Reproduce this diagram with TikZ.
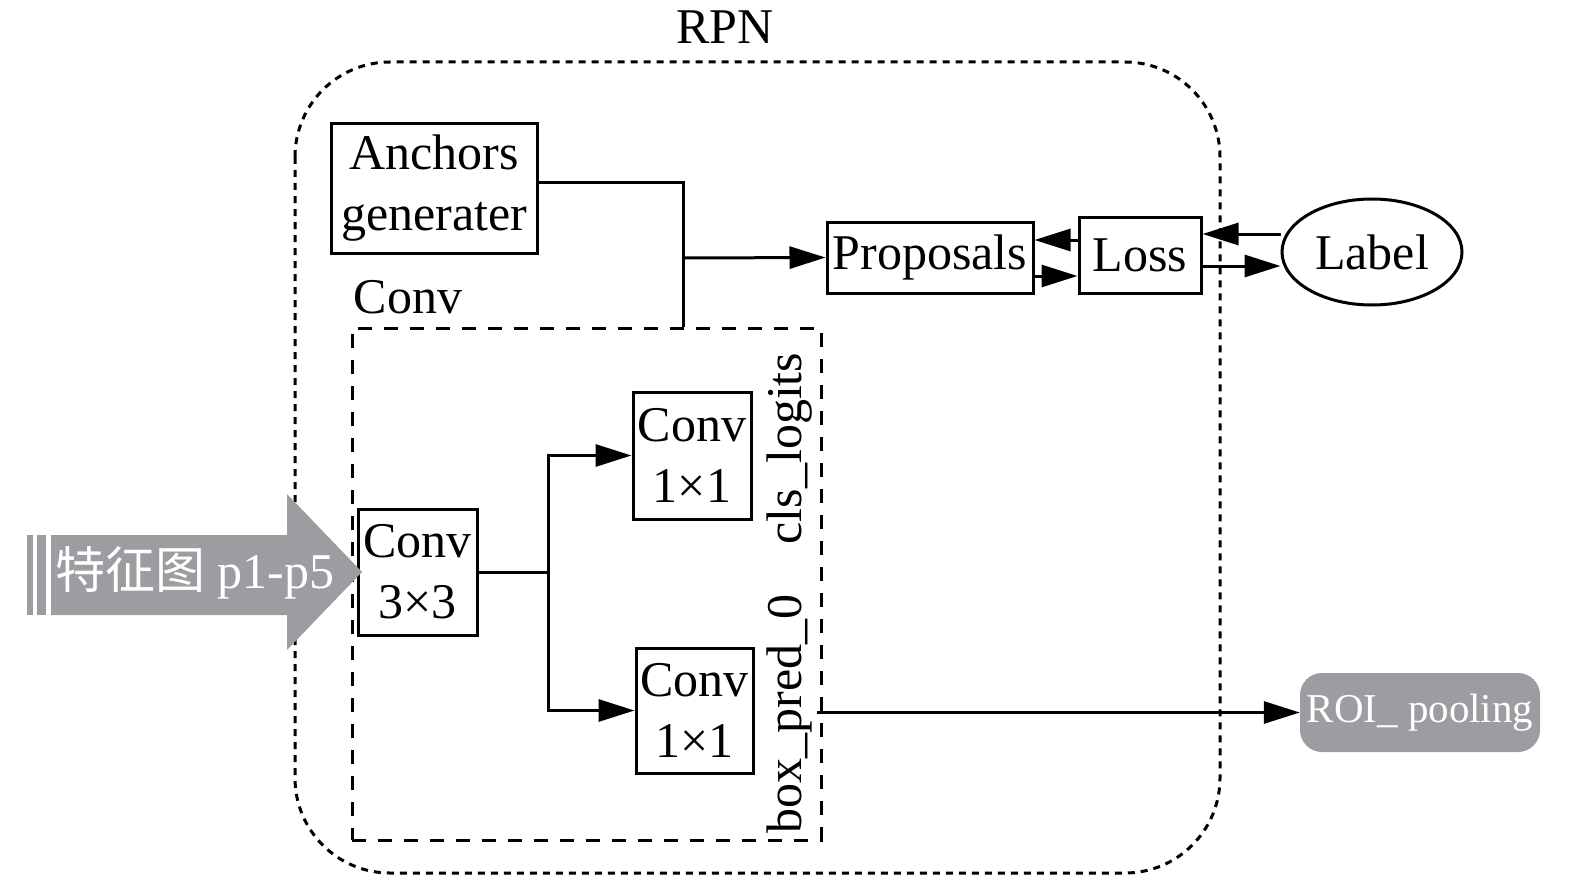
\documentclass[tikz,border=0pt]{standalone}
\usepackage{fontspec}
\setmainfont{Liberation Serif}
\newfontfamily\cjk{Noto Sans CJK SC}
\usetikzlibrary{arrows.meta,shapes.geometric}
\definecolor{fgray}{RGB}{156,157,161}
\newcommand\bigf{\fontsize{50}{61}\selectfont}
\newcommand\midf{\fontsize{41}{48}\selectfont}
\tikzset{
  box/.style={draw, line width=3pt, inner sep=0pt, align=center, font=\bigf},
  conn/.style={line width=3pt},
  arr/.style={line width=3pt, -{Triangle[length=36pt,width=22pt]}},
  outerframe/.style={line width=3pt, dash pattern=on 7pt off 6pt, rounded corners=95pt},
  innerframe/.style={draw, line width=3pt, dash pattern=on 14pt off 12pt, inner sep=0pt},
  plain/.style={inner sep=0pt, font=\bigf}
}
\begin{document}
\begin{tikzpicture}[x=1pt,y=-1pt]
\useasboundingbox (0,0) rectangle (1575,880);
% outer RPN frame
\draw[outerframe] (295,62) rectangle (1220,873);
\node[plain] (rpn) at (725,27) {RPN};
% inner Conv frame
\node[innerframe, minimum width=469pt, minimum height=512pt] (convbox) at (586.5,584) {};
\node[plain] (convlbl) at (408,297) {Conv};
% boxes
\node[box, minimum width=206pt, minimum height=129pt] (anchors) at (434,188.5) {Anchors\\generater};
\node[box, minimum width=206pt, minimum height=71pt] (proposals) at (930,257.5) {Proposals};
\node[box, minimum width=122pt, minimum height=76pt] (loss) at (1140,255) {Loss};
\node[draw, ellipse, line width=3pt, inner sep=0pt, font=\bigf, minimum width=180pt, minimum height=106pt] (label) at (1372,252) {Label};
\node[box, minimum width=119pt, minimum height=126pt] (conv33) at (417.5,572) {Conv\\3×3};
\node[box, minimum width=118pt, minimum height=127pt] (conv11a) at (692,455.5) {Conv\\1×1};
\node[box, minimum width=117pt, minimum height=125pt] (conv11b) at (694.5,710.5) {Conv\\1×1};
\node[plain, rotate=90] (vt) at (790,593) {box\_pred\_0\quad cls\_logits};
\node[fill=fgray, rounded corners=22pt, minimum width=240pt, minimum height=79pt, inner sep=0pt, text=white, font=\midf] (roi) at (1420,712.5) {ROI\_ pooling};
% feature arrow
\fill[fgray] (51,535) -- (287,535) -- (287,494) -- (362,572) -- (287,650) -- (287,615) -- (51,615) -- cycle;
\fill[fgray] (27,535) rectangle (33,615);
\fill[fgray] (37,535) rectangle (46,615);
\node[inner sep=0pt, text=white, font=\bigf] (feat) at (195,573) {{\cjk 特征图} p1-p5};
% connectors
\coordinate (jA) at (683,258);
\draw[conn] ([yshift=5.5pt]anchors.east) -| (jA) -- (jA |- convbox.north);
\draw[arr] (jA) -- (proposals.west);
\coordinate (lp) at ([yshift=15pt]loss.west);
\draw[arr] (lp) -- (lp -| proposals.east);
\coordinate (pl) at ([yshift=-18.5pt]proposals.east);
\draw[arr] (pl) -- (pl -| loss.west);
\coordinate (ll) at ([yshift=18pt]label.west);
\draw[arr] (ll) -- (ll -| loss.east);
\coordinate (lo) at ([yshift=-11pt]loss.east);
\draw[arr] (lo) -- (lo -| label.west);
\coordinate (br) at (548,572);
\draw[conn] (conv33.east) -- (br);
\draw[arr] (br) |- (conv11a.west);
\draw[arr] (br) |- (conv11b.west);
\coordinate (bp) at (817,712.5);
\draw[arr] (bp) -- (roi.west);
\end{tikzpicture}
\end{document}
